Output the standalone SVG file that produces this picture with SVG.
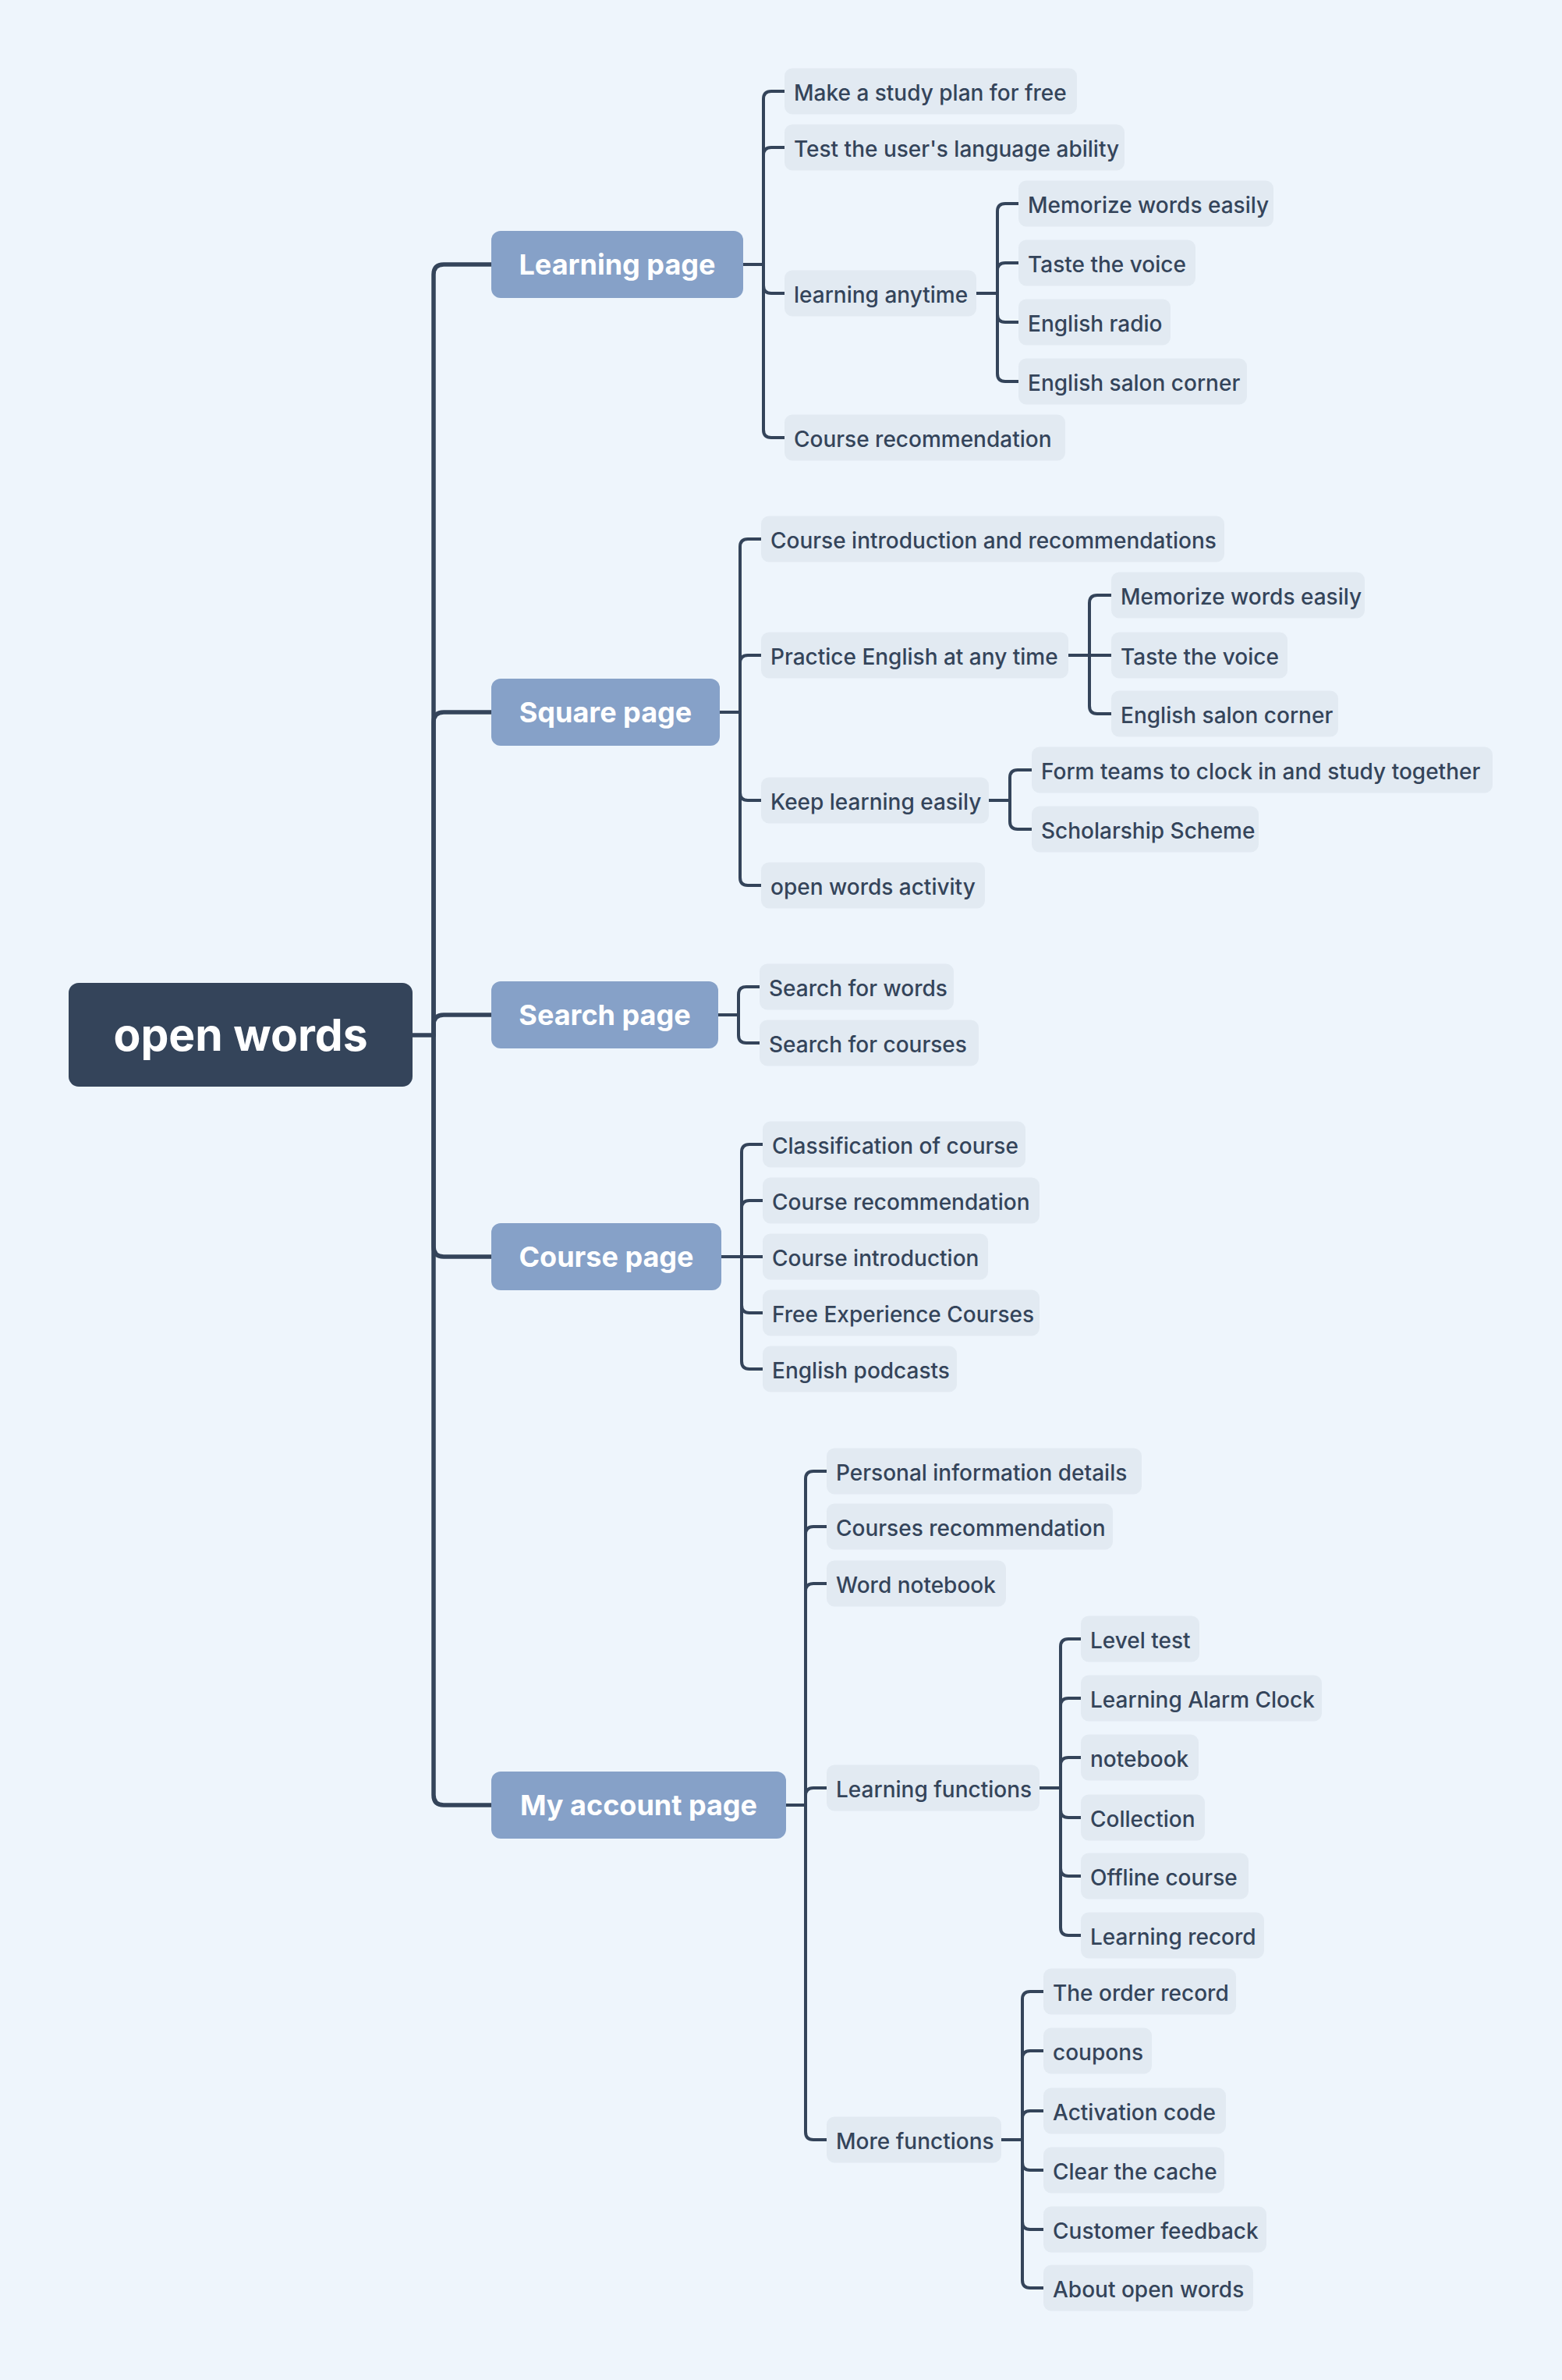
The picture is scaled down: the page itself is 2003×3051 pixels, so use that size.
<svg xmlns="http://www.w3.org/2000/svg" width="2003" height="3051" viewBox="0 0 2003 3051">
<style>
.bg{fill:#EEF5FC}
.root rect{fill:#34445A}
.root text{fill:#FFFFFF;font-family:Inter,"Noto Sans",sans-serif;font-weight:700;font-size:57px;text-anchor:middle}
.l1 rect{fill:#86A1C8}
.l1 text{fill:#FFFFFF;font-family:Inter,"Noto Sans",sans-serif;font-weight:700;font-size:36px;text-anchor:middle}
.leaf rect{fill:#E2EAF2}
.leaf text{fill:#34445A;font-family:Inter,"Noto Sans",sans-serif;font-weight:500;font-size:28px}
.trunk{fill:none;stroke:#34445A;stroke-width:5.5;stroke-linecap:round}
.link{fill:none;stroke:#34445A;stroke-width:4;stroke-linecap:round}
</style>
<rect class="bg" x="0" y="0" width="2003" height="3051"/>
<g id="connectors">
<path class="trunk" d="M529 1327 H556"/>
<path class="trunk" d="M556 1327 V352 Q556 339 569 339 H630"/>
<path class="trunk" d="M556 1327 V926 Q556 913 569 913 H630"/>
<path class="trunk" d="M556 1327 V1314 Q556 1301 569 1301 H630"/>
<path class="trunk" d="M556 1327 V1598 Q556 1611 569 1611 H630"/>
<path class="trunk" d="M556 1327 V2301 Q556 2314 569 2314 H630"/>
<path class="link" d="M953 339 H979"/>
<path class="link" d="M979 339 V127 Q979 117 989 117 H1006"/>
<path class="link" d="M979 339 V199 Q979 189 989 189 H1006"/>
<path class="link" d="M979 339 V366 Q979 376 989 376 H1006"/>
<path class="link" d="M979 339 V551 Q979 561 989 561 H1006"/>
<path class="link" d="M1252 376 H1279"/>
<path class="link" d="M1279 376 V271 Q1279 261 1289 261 H1306"/>
<path class="link" d="M1279 376 V347 Q1279 337 1289 337 H1306"/>
<path class="link" d="M1279 376 V403 Q1279 413 1289 413 H1306"/>
<path class="link" d="M1279 376 V479 Q1279 489 1289 489 H1306"/>
<path class="link" d="M923 913 H949"/>
<path class="link" d="M949 913 V701 Q949 691 959 691 H976"/>
<path class="link" d="M949 913 V850 Q949 840 959 840 H976"/>
<path class="link" d="M949 913 V1016 Q949 1026 959 1026 H976"/>
<path class="link" d="M949 913 V1125 Q949 1135 959 1135 H976"/>
<path class="link" d="M1370 840 H1397"/>
<path class="link" d="M1397 840 V773 Q1397 763 1407 763 H1425"/>
<path class="link" d="M1397 840 H1425"/>
<path class="link" d="M1397 840 V905 Q1397 915 1407 915 H1425"/>
<path class="link" d="M1268 1026 H1295"/>
<path class="link" d="M1295 1026 V997 Q1295 987 1305 987 H1323"/>
<path class="link" d="M1295 1026 V1053 Q1295 1063 1305 1063 H1323"/>
<path class="link" d="M921 1301 H947"/>
<path class="link" d="M947 1301 V1275 Q947 1265 957 1265 H974"/>
<path class="link" d="M947 1301 V1327 Q947 1337 957 1337 H974"/>
<path class="link" d="M925 1611 H951"/>
<path class="link" d="M951 1611 V1477 Q951 1467 961 1467 H978"/>
<path class="link" d="M951 1611 V1549 Q951 1539 961 1539 H978"/>
<path class="link" d="M951 1611 H978"/>
<path class="link" d="M951 1611 V1673 Q951 1683 961 1683 H978"/>
<path class="link" d="M951 1611 V1745 Q951 1755 961 1755 H978"/>
<path class="link" d="M1008 2314 H1033"/>
<path class="link" d="M1033 2314 V1896 Q1033 1886 1043 1886 H1060"/>
<path class="link" d="M1033 2314 V1967 Q1033 1957 1043 1957 H1060"/>
<path class="link" d="M1033 2314 V2040 Q1033 2030 1043 2030 H1060"/>
<path class="link" d="M1033 2314 V2302 Q1033 2292 1043 2292 H1060"/>
<path class="link" d="M1033 2314 V2733 Q1033 2743 1043 2743 H1060"/>
<path class="link" d="M1333 2292 H1360"/>
<path class="link" d="M1360 2292 V2111 Q1360 2101 1370 2101 H1386"/>
<path class="link" d="M1360 2292 V2187 Q1360 2177 1370 2177 H1386"/>
<path class="link" d="M1360 2292 V2263 Q1360 2253 1370 2253 H1386"/>
<path class="link" d="M1360 2292 V2320 Q1360 2330 1370 2330 H1386"/>
<path class="link" d="M1360 2292 V2395 Q1360 2405 1370 2405 H1386"/>
<path class="link" d="M1360 2292 V2471 Q1360 2481 1370 2481 H1386"/>
<path class="link" d="M1284 2743 H1311"/>
<path class="link" d="M1311 2743 V2563 Q1311 2553 1321 2553 H1338"/>
<path class="link" d="M1311 2743 V2639 Q1311 2629 1321 2629 H1338"/>
<path class="link" d="M1311 2743 V2716 Q1311 2706 1321 2706 H1338"/>
<path class="link" d="M1311 2743 V2772 Q1311 2782 1321 2782 H1338"/>
<path class="link" d="M1311 2743 V2848 Q1311 2858 1321 2858 H1338"/>
<path class="link" d="M1311 2743 V2923 Q1311 2933 1321 2933 H1338"/>
</g>
<g id="root" class="root"><rect x="88" y="1260" width="441" height="133" rx="13"/><text x="308.5" y="1347">open words</text></g>
<g id="learning-page" class="l1"><rect x="630" y="296" width="323" height="86" rx="12"/><text x="791.5" y="352">Learning page</text></g>
<g id="square-page" class="l1"><rect x="630" y="870" width="293" height="86" rx="12"/><text x="776.5" y="926">Square page</text></g>
<g id="search-page" class="l1"><rect x="630" y="1258" width="291" height="86" rx="12"/><text x="775.5" y="1314">Search page</text></g>
<g id="course-page" class="l1"><rect x="630" y="1568" width="295" height="86" rx="12"/><text x="777.5" y="1624">Course page</text></g>
<g id="my-account-page" class="l1"><rect x="630" y="2271" width="378" height="86" rx="12"/><text x="819" y="2327">My account page</text></g>
<g id="lp-plan" class="leaf"><rect x="1006" y="87.5" width="375" height="59" rx="10"/><text x="1018" y="129">Make a study plan for free</text></g>
<g id="lp-test" class="leaf"><rect x="1006" y="159.5" width="436" height="59" rx="10"/><text x="1018" y="201">Test the user's language ability</text></g>
<g id="lp-anytime" class="leaf"><rect x="1006" y="346.5" width="246" height="59" rx="10"/><text x="1018" y="388">learning anytime</text></g>
<g id="lp-course-rec" class="leaf"><rect x="1006" y="531.5" width="360" height="59" rx="10"/><text x="1018" y="573">Course recommendation</text></g>
<g id="la-memorize" class="leaf"><rect x="1306" y="231.5" width="327" height="59" rx="10"/><text x="1318" y="273">Memorize words easily</text></g>
<g id="la-taste" class="leaf"><rect x="1306" y="307.5" width="227" height="59" rx="10"/><text x="1318" y="349">Taste the voice</text></g>
<g id="la-radio" class="leaf"><rect x="1306" y="383.5" width="195" height="59" rx="10"/><text x="1318" y="425">English radio</text></g>
<g id="la-salon" class="leaf"><rect x="1306" y="459.5" width="293" height="59" rx="10"/><text x="1318" y="501">English salon corner</text></g>
<g id="sp-intro" class="leaf"><rect x="976" y="661.5" width="594" height="59" rx="10"/><text x="988" y="703">Course introduction and recommendations</text></g>
<g id="sp-practice" class="leaf"><rect x="976" y="810.5" width="394" height="59" rx="10"/><text x="988" y="852">Practice English at any time</text></g>
<g id="sp-keep" class="leaf"><rect x="976" y="996.5" width="292" height="59" rx="10"/><text x="988" y="1038">Keep learning easily</text></g>
<g id="sp-activity" class="leaf"><rect x="976" y="1105.5" width="287" height="59" rx="10"/><text x="988" y="1147">open words activity</text></g>
<g id="pe-memorize" class="leaf"><rect x="1425" y="733.5" width="325" height="59" rx="10"/><text x="1437" y="775">Memorize words easily</text></g>
<g id="pe-taste" class="leaf"><rect x="1425" y="810.5" width="226" height="59" rx="10"/><text x="1437" y="852">Taste the voice</text></g>
<g id="pe-salon" class="leaf"><rect x="1425" y="885.5" width="291" height="59" rx="10"/><text x="1437" y="927">English salon corner</text></g>
<g id="kl-teams" class="leaf"><rect x="1323" y="957.5" width="591" height="59" rx="10"/><text x="1335" y="999">Form teams to clock in and study together</text></g>
<g id="kl-scholarship" class="leaf"><rect x="1323" y="1033.5" width="291" height="59" rx="10"/><text x="1335" y="1075">Scholarship Scheme</text></g>
<g id="se-words" class="leaf"><rect x="974" y="1235.5" width="249" height="59" rx="10"/><text x="986" y="1277">Search for words</text></g>
<g id="se-courses" class="leaf"><rect x="974" y="1307.5" width="281" height="59" rx="10"/><text x="986" y="1349">Search for courses</text></g>
<g id="cp-class" class="leaf"><rect x="978" y="1437.5" width="337" height="59" rx="10"/><text x="990" y="1479">Classification of course</text></g>
<g id="cp-rec" class="leaf"><rect x="978" y="1509.5" width="355" height="59" rx="10"/><text x="990" y="1551">Course recommendation</text></g>
<g id="cp-intro" class="leaf"><rect x="978" y="1581.5" width="289" height="59" rx="10"/><text x="990" y="1623">Course introduction</text></g>
<g id="cp-free" class="leaf"><rect x="978" y="1653.5" width="355" height="59" rx="10"/><text x="990" y="1695">Free Experience Courses</text></g>
<g id="cp-podcasts" class="leaf"><rect x="978" y="1725.5" width="249" height="59" rx="10"/><text x="990" y="1767">English podcasts</text></g>
<g id="ma-personal" class="leaf"><rect x="1060" y="1856.5" width="404" height="59" rx="10"/><text x="1072" y="1898">Personal information details</text></g>
<g id="ma-courses" class="leaf"><rect x="1060" y="1927.5" width="367" height="59" rx="10"/><text x="1072" y="1969">Courses recommendation</text></g>
<g id="ma-word" class="leaf"><rect x="1060" y="2000.5" width="230" height="59" rx="10"/><text x="1072" y="2042">Word notebook</text></g>
<g id="ma-learning" class="leaf"><rect x="1060" y="2262.5" width="273" height="59" rx="10"/><text x="1072" y="2304">Learning functions</text></g>
<g id="ma-more" class="leaf"><rect x="1060" y="2713.5" width="224" height="59" rx="10"/><text x="1072" y="2755">More functions</text></g>
<g id="lf-level" class="leaf"><rect x="1386" y="2071.5" width="152" height="59" rx="10"/><text x="1398" y="2113">Level test</text></g>
<g id="lf-alarm" class="leaf"><rect x="1386" y="2147.5" width="309" height="59" rx="10"/><text x="1398" y="2189">Learning Alarm Clock</text></g>
<g id="lf-notebook" class="leaf"><rect x="1386" y="2223.5" width="151" height="59" rx="10"/><text x="1398" y="2265">notebook</text></g>
<g id="lf-collection" class="leaf"><rect x="1386" y="2300.5" width="159" height="59" rx="10"/><text x="1398" y="2342">Collection</text></g>
<g id="lf-offline" class="leaf"><rect x="1386" y="2375.5" width="215" height="59" rx="10"/><text x="1398" y="2417">Offline course</text></g>
<g id="lf-record" class="leaf"><rect x="1386" y="2451.5" width="235" height="59" rx="10"/><text x="1398" y="2493">Learning record</text></g>
<g id="mf-order" class="leaf"><rect x="1338" y="2523.5" width="247" height="59" rx="10"/><text x="1350" y="2565">The order record</text></g>
<g id="mf-coupons" class="leaf"><rect x="1338" y="2599.5" width="139" height="59" rx="10"/><text x="1350" y="2641">coupons</text></g>
<g id="mf-activation" class="leaf"><rect x="1338" y="2676.5" width="234" height="59" rx="10"/><text x="1350" y="2718">Activation code</text></g>
<g id="mf-cache" class="leaf"><rect x="1338" y="2752.5" width="232" height="59" rx="10"/><text x="1350" y="2794">Clear the cache</text></g>
<g id="mf-feedback" class="leaf"><rect x="1338" y="2828.5" width="286" height="59" rx="10"/><text x="1350" y="2870">Customer feedback</text></g>
<g id="mf-about" class="leaf"><rect x="1338" y="2903.5" width="269" height="59" rx="10"/><text x="1350" y="2945">About open words</text></g>
</svg>
